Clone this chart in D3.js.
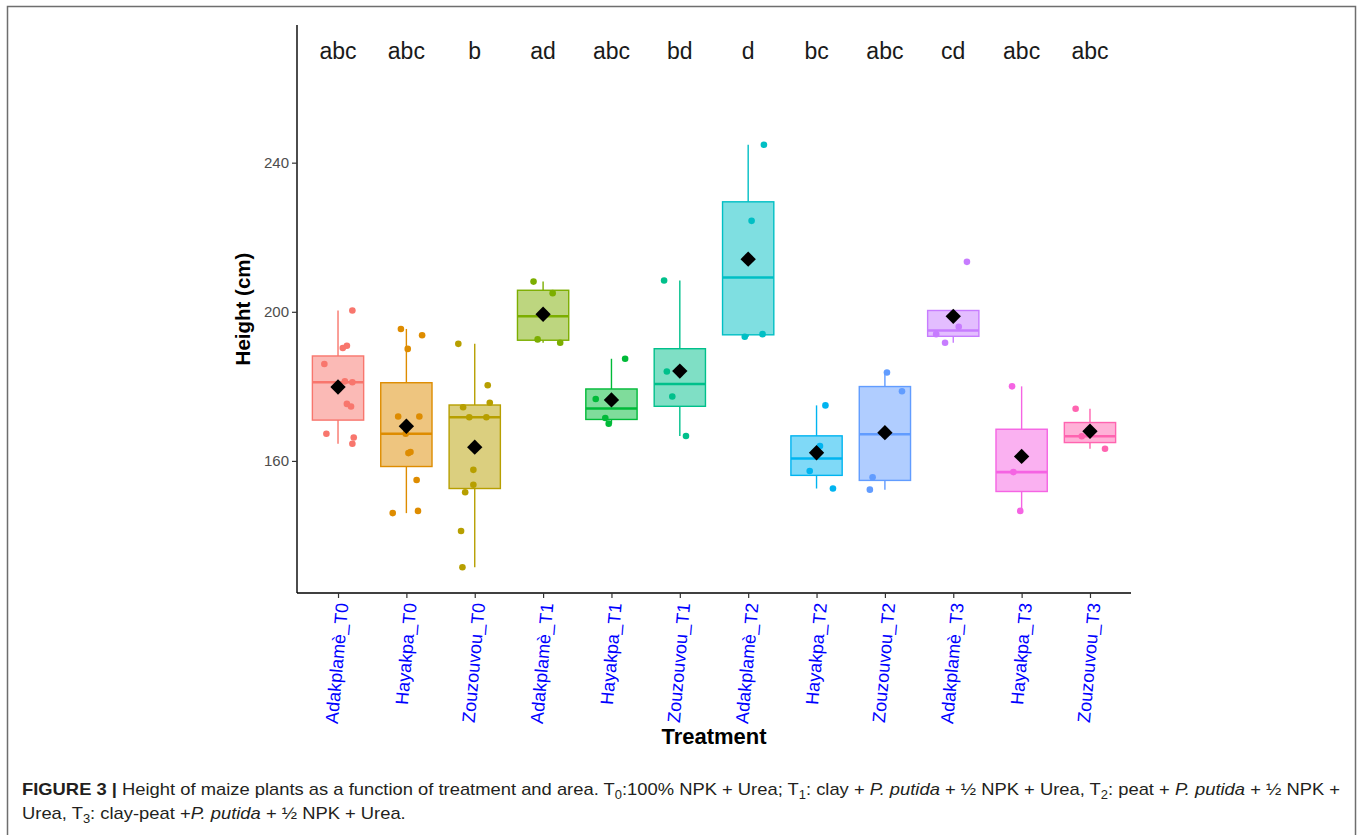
<!DOCTYPE html>
<html>
<head>
<meta charset="utf-8">
<script src="https://cdn.jsdelivr.net/npm/d3@7"></script>
<style>
  html, body { margin: 0; padding: 0; background: #fff; }
  svg { display: block; font-family: "Liberation Sans", Arial, Helvetica, sans-serif; }
</style>
</head>
<body>
<svg id="chart" width="1357" height="835"></svg>
<script>
// ---------------- data ----------------
const categories = ["Adakplamè_T0","Hayakpa_T0","Zouzouvou_T0","Adakplamè_T1","Hayakpa_T1","Zouzouvou_T1",
                    "Adakplamè_T2","Hayakpa_T2","Zouzouvou_T2","Adakplamè_T3","Hayakpa_T3","Zouzouvou_T3"];
const letters = ["abc","abc","b","ad","abc","bd","d","bc","abc","cd","abc","abc"];
const colors = ["#F8766D","#DE8C00","#B79F00","#7CAE00","#00BA38","#00C08B",
                "#00BFC4","#00B4F0","#619CFF","#C77CFF","#F564E3","#FF64B0"];
// plant heights (cm) per treatment
const heights = [
  [186.0,200.35,190.3,190.9,181.35,181.1,175.3,174.6,167.3,166.3,164.6],
  [195.4,193.7,190.05,171.9,171.9,167.3,162.1,162.4,154.9,146.0,146.6],
  [191.4,180.3,175.6,174.4,171.7,171.7,157.6,153.6,151.6,141.2,131.5],
  [208.1,205.0,192.6,191.7],
  [187.4,176.6,171.5,170.0],
  [208.4,184.0,177.3,166.7],
  [244.8,224.4,193.3,194.0],
  [174.9,164.0,157.3,152.6],
  [183.7,178.7,155.6,152.3],
  [213.4,196.0,194.0,191.7],
  [180.0,157.0,146.6],
  [174.0,166.6,163.25]
];
// horizontal jitter of each point (fraction of category spacing)
const jitter = [
  [-0.20,0.21,0.07,0.13,0.10,0.21,0.13,0.19,-0.17,0.23,0.21],
  [-0.08,0.23,0.02,-0.12,0.19,-0.01,0.03,0.06,0.15,-0.20,0.17],
  [-0.24,0.19,0.22,-0.17,-0.08,0.17,-0.02,-0.02,-0.14,-0.20,-0.18],
  [-0.14,0.14,-0.08,0.25],
  [0.20,-0.23,-0.09,-0.04],
  [-0.23,-0.19,-0.11,0.09],
  [0.23,0.05,-0.05,0.21],
  [0.13,0.05,-0.10,0.24],
  [0.03,0.25,-0.18,-0.22],
  [0.20,0.08,-0.25,-0.12],
  [-0.14,-0.12,-0.02],
  [-0.21,-0.12,0.22]
];
const yTicks = [160, 200, 240];
const letterY = 270;
const yTitle = "Height (cm)";
const xTitle = "Treatment";

// ---------------- layout ----------------
const svg = d3.select("#chart");
const W = 1357, H = 835;
const panel = { left: 297, right: 1131, top: 25, bottom: 593 };
const font = '"Liberation Sans", Arial, Helvetica, sans-serif';

svg.append("rect").attr("width", W).attr("height", H).attr("fill", "#fff");
svg.append("rect").attr("x", 7.5).attr("y", 6.5).attr("width", 1348).attr("height", 860)
   .attr("fill", "none").attr("stroke", "#6e6e6e").attr("stroke-width", 1.5);

// scales
const allVals = heights.flat().concat([letterY]);
const lo = d3.min(allVals), hi = d3.max(allVals);
const pad = (hi - lo) * 0.05;
const y = d3.scaleLinear().domain([lo - pad, hi + pad]).range([panel.bottom, panel.top]);
const x = d3.scalePoint().domain(categories).range([panel.left, panel.right]).padding(0.6);
const step = x.step();
const boxW = step * 0.75;

// stats
const stats = categories.map((c, i) => {
  const v = heights[i].slice().sort(d3.ascending);
  const q1 = d3.quantile(v, 0.25), med = d3.quantile(v, 0.5), q3 = d3.quantile(v, 0.75);
  const iqr = q3 - q1;
  const inRange = v.filter(d => d >= q1 - 1.5 * iqr && d <= q3 + 1.5 * iqr);
  return { c, i, q1, med, q3, wlo: d3.min(inRange), whi: d3.max(inRange), mean: d3.mean(v), color: colors[i] };
});

const g = svg.append("g");

// boxes
const bx = g.selectAll("g.box").data(stats).join("g").attr("class", "box");
bx.each(function(d) {
  const s = d3.select(this);
  const cx = x(d.c);
  if (d.whi > d.q3)
    s.append("line").attr("x1", cx).attr("x2", cx).attr("y1", y(d.q3)).attr("y2", y(d.whi))
     .attr("stroke", d.color).attr("stroke-width", 1.4);
  if (d.wlo < d.q1)
    s.append("line").attr("x1", cx).attr("x2", cx).attr("y1", y(d.q1)).attr("y2", y(d.wlo))
     .attr("stroke", d.color).attr("stroke-width", 1.4);
  s.append("rect").attr("x", cx - boxW / 2).attr("width", boxW)
   .attr("y", y(d.q3)).attr("height", y(d.q1) - y(d.q3))
   .attr("fill", d.color).attr("fill-opacity", 0.5)
   .attr("stroke", d.color).attr("stroke-width", 1.4);
  s.append("line").attr("x1", cx - boxW / 2).attr("x2", cx + boxW / 2)
   .attr("y1", y(d.med)).attr("y2", y(d.med))
   .attr("stroke", d.color).attr("stroke-width", 2.6);
});

// jittered points
categories.forEach((c, i) => {
  g.append("g").selectAll("circle").data(heights[i]).join("circle")
    .attr("cx", (d, k) => x(c) + jitter[i][k] * step)
    .attr("cy", d => y(d))
    .attr("r", 3.3)
    .attr("fill", colors[i]);
});

// means
g.append("g").selectAll("path").data(stats).join("path")
  .attr("d", d3.symbol().type(d3.symbolDiamond2).size(150))
  .attr("transform", d => `translate(${x(d.c)},${y(d.mean)})`)
  .attr("fill", "#000");

// letters
g.append("g").selectAll("text").data(categories).join("text")
  .attr("x", d => x(d)).attr("y", y(letterY)).attr("dy", "0.35em")
  .attr("text-anchor", "middle").attr("font-size", 23).attr("fill", "#1a1a1a")
  .text((d, i) => letters[i]);

// axes
const yAxis = d3.axisLeft(y).tickValues(yTicks).tickSize(5).tickPadding(3);
const ya = svg.append("g").attr("transform", `translate(${panel.left},0)`).call(yAxis);
ya.select(".domain").attr("d", `M0,${panel.top}V${panel.bottom}`).attr("stroke", "#000").attr("stroke-width", 1.4);
ya.selectAll(".tick line").attr("stroke", "#333").attr("stroke-width", 1.2);
ya.selectAll(".tick text").attr("font-size", 15).attr("fill", "#4d4d4d").attr("font-family", font);

const xAxis = d3.axisBottom(x).tickSize(5).tickFormat("");
const xa = svg.append("g").attr("transform", `translate(0,${panel.bottom})`).call(xAxis);
xa.select(".domain").attr("d", `M${panel.left},0H${panel.right}`).attr("stroke", "#000").attr("stroke-width", 1.4);
xa.selectAll(".tick line").attr("stroke", "#333").attr("stroke-width", 1.2);

svg.append("g").selectAll("text").data(categories).join("text")
  .attr("transform", d => `translate(${x(d) + 4},${panel.bottom + 10}) rotate(-85)`)
  .attr("text-anchor", "end").attr("dy", "0.35em")
  .attr("font-size", 18).attr("fill", "#0000ff")
  .text(d => d);

// titles
svg.append("text").attr("transform", `translate(250,${(panel.top + panel.bottom) / 2}) rotate(-90)`)
  .attr("text-anchor", "middle").attr("font-size", 20.5).attr("font-weight", "bold").attr("fill", "#000")
  .text(yTitle);
svg.append("text").attr("x", (panel.left + panel.right) / 2).attr("y", 744)
  .attr("text-anchor", "middle").attr("font-size", 22).attr("font-weight", "bold").attr("fill", "#000")
  .text(xTitle);

// caption
const capColor = "#231f20";
function addLine(yPos, parts) {
  const t = svg.append("text").attr("x", 22).attr("y", yPos).attr("font-size", 17).attr("fill", capColor);
  parts.forEach(p => {
    const ts = t.append("tspan").text(p.t);
    if (p.b) ts.attr("font-weight", "bold");
    if (p.i) ts.attr("font-style", "italic");
    if (p.sub) ts.attr("font-size", 12).attr("dy", 4);
    if (p.up) ts.attr("dy", -4);
  });
  return t;
}
const line1 = addLine(795, [
  {t: "FIGURE 3 | ", b: true},
  {t: "Height of maize plants as a function of treatment and area. T"},
  {t: "0", sub: true}, {t: ":100% NPK + Urea; T", up: true},
  {t: "1", sub: true}, {t: ": clay + ", up: true}, {t: "P. putida", i: true}, {t: " + ½ NPK + Urea, T"},
  {t: "2", sub: true}, {t: ": peat + ", up: true}, {t: "P. putida", i: true}, {t: " + ½ NPK +"}
]);
const line2 = addLine(819, [
  {t: "Urea, T"}, {t: "3", sub: true}, {t: ": clay-peat +", up: true}, {t: "P. putida", i: true},
  {t: " + ½ NPK + Urea."}
]);
const w1 = line1.node().getComputedTextLength();
const target = 1318;
line1.attr("textLength", target).attr("lengthAdjust", "spacingAndGlyphs");
const ratio = target / w1;
const w2 = line2.node().getComputedTextLength();
line2.attr("textLength", w2 * ratio).attr("lengthAdjust", "spacingAndGlyphs");
</script>
</body>
</html>
